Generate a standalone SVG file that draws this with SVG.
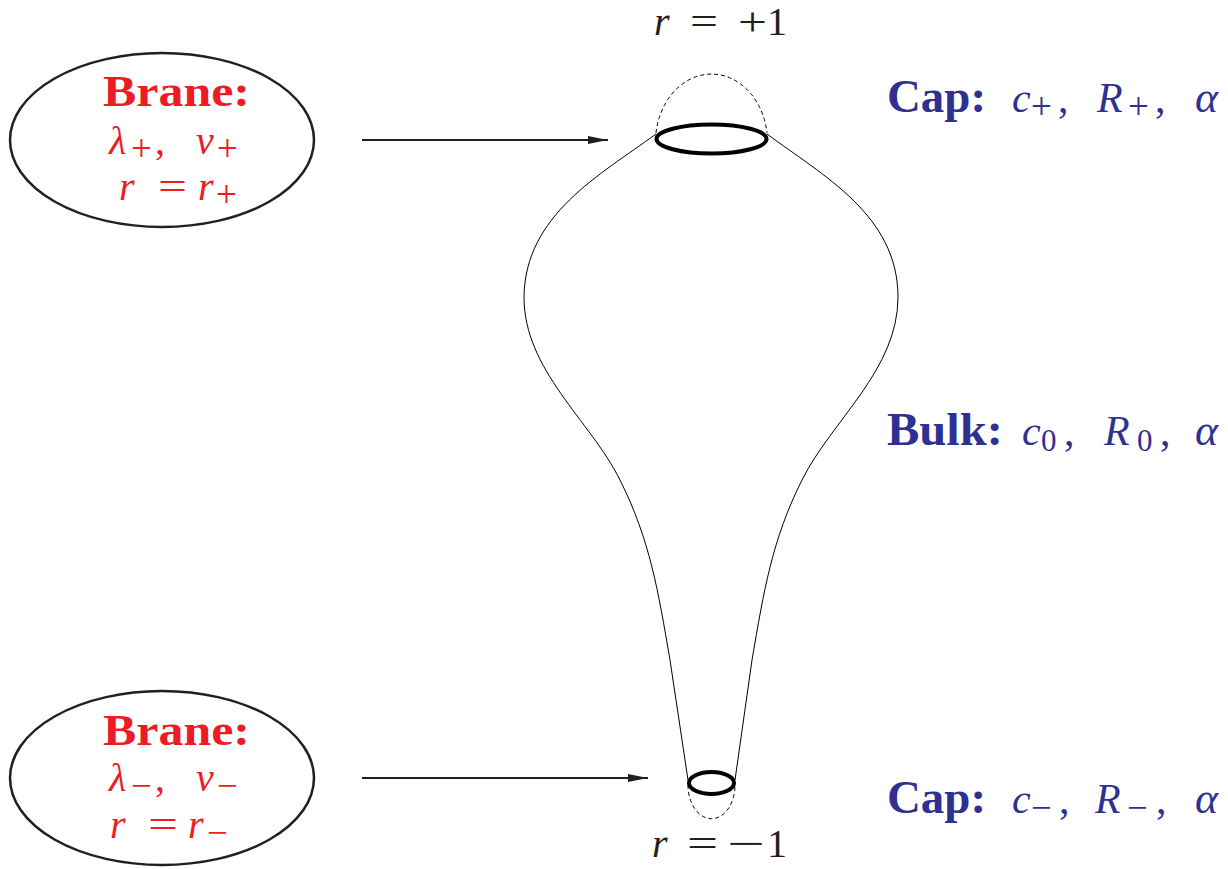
<svg xmlns="http://www.w3.org/2000/svg" width="1228" height="869" viewBox="0 0 1228 869">
<style>
.t{font-family:"Liberation Serif","DejaVu Serif",serif}
.red{fill:#ED1C24}
.blue{fill:#2E3192}
.blk{fill:#231F20}
.b{font-weight:bold}
.i{font-style:italic}
.s{font-size:31px}
.p{font-size:37px}
.ell{fill:none;stroke:#231F20;stroke-width:2.5}
.cap{fill:none;stroke:#000;stroke-width:4}
.dash{fill:none;stroke:#000;stroke-width:1;stroke-dasharray:4,3}
.body{fill:none;stroke:#000;stroke-width:1}
.arr{stroke:#231F20;stroke-width:2;fill:none}
</style>
<defs>
<marker id="ah2" viewBox="0 0 20 10" refX="20" refY="5" markerWidth="20" markerHeight="10" markerUnits="userSpaceOnUse" orient="auto"><path d="M0,1 L20,5 L0,9 Z" fill="#231F20"/></marker>
</defs>
<g id="shape">
<path class="body" d="M656,134 C600,175 525,215 524,297 C524,370 590,420 620,480 C650,540 658,590 670,660 L688,780"/>
<path class="body" d="M767,134 C822,175 898,215 898,297 C898,370 832,420 802,480 C772,540 764,590 752,660 L735,780"/>
<path class="dash" d="M656,133 A56,68 0 0 1 767,133"/>
<path class="dash" d="M688,785 A23,33 0 0 0 735,785"/>
<ellipse class="cap" cx="711.5" cy="139" rx="55" ry="14.5"/>
<ellipse class="cap" cx="711.5" cy="783" rx="22.5" ry="11"/>
<text class="t blk" y="35" font-size="40"><tspan x="654" class="i">r</tspan><tspan x="690" textLength="28" lengthAdjust="spacingAndGlyphs">=</tspan><tspan x="738" textLength="29" lengthAdjust="spacingAndGlyphs">+</tspan><tspan x="767">1</tspan></text>
<text class="t blk" y="857" font-size="40"><tspan x="652" class="i">r</tspan><tspan x="687" textLength="31" lengthAdjust="spacingAndGlyphs">=</tspan><tspan x="727" textLength="38" lengthAdjust="spacingAndGlyphs">−</tspan><tspan x="767">1</tspan></text>
</g>
<g id="brane-top">
<ellipse class="ell" cx="162" cy="140" rx="152" ry="87"/>
<text class="t red b" x="103" y="106" font-size="44" textLength="147" lengthAdjust="spacingAndGlyphs">Brane:</text>
<text class="t red" y="154" font-size="40"><tspan x="109" class="i">λ</tspan><tspan x="131" y="161" class="p">+</tspan><tspan x="155" y="154">,</tspan><tspan x="196" class="i">v</tspan><tspan x="217" y="161" class="p">+</tspan></text>
<text class="t red" y="200" font-size="40"><tspan x="119" class="i">r</tspan><tspan x="158" textLength="29" lengthAdjust="spacingAndGlyphs">=</tspan><tspan x="198" class="i">r</tspan><tspan x="216" y="207" class="p">+</tspan></text>
</g>
<g id="brane-bottom">
<ellipse class="ell" cx="162" cy="778" rx="152" ry="87"/>
<text class="t red b" x="103" y="745" font-size="44" textLength="147" lengthAdjust="spacingAndGlyphs">Brane:</text>
<text class="t red" y="791" font-size="40"><tspan x="109" class="i">λ</tspan><tspan x="131" y="798" class="p">−</tspan><tspan x="155" y="791">,</tspan><tspan x="196" class="i">v</tspan><tspan x="217" y="798" class="p">−</tspan></text>
<text class="t red" y="838" font-size="40"><tspan x="110" class="i">r</tspan><tspan x="148" textLength="30" lengthAdjust="spacingAndGlyphs">=</tspan><tspan x="188" class="i">r</tspan><tspan x="207" y="845" class="p">−</tspan></text>
</g>
<g id="label-cap-top" class="t blue" font-size="42">
<text x="887" y="112" class="b" font-size="47" textLength="99" lengthAdjust="spacingAndGlyphs">Cap:</text>
<text y="112"><tspan x="1012" class="i">c</tspan><tspan x="1031" y="119" class="p">+</tspan><tspan x="1058" y="112">,</tspan><tspan x="1097" class="i">R</tspan><tspan x="1128" y="119" class="p">+</tspan><tspan x="1155" y="112">,</tspan><tspan x="1195" class="i" font-size="44">α</tspan></text>
</g>
<g id="label-bulk" class="t blue" font-size="42">
<text x="887" y="445" class="b" font-size="47" textLength="116" lengthAdjust="spacingAndGlyphs">Bulk:</text>
<text y="445"><tspan x="1022" class="i">c</tspan><tspan x="1041" y="451" class="s">0</tspan><tspan x="1064" y="445">,</tspan><tspan x="1104" class="i">R</tspan><tspan x="1137" y="451" class="s">0</tspan><tspan x="1160" y="445">,</tspan><tspan x="1195" class="i" font-size="44">α</tspan></text>
</g>
<g id="label-cap-bottom" class="t blue" font-size="42">
<text x="887" y="813" class="b" font-size="47" textLength="99" lengthAdjust="spacingAndGlyphs">Cap:</text>
<text y="813"><tspan x="1012" class="i">c</tspan><tspan x="1031" y="820" class="p">−</tspan><tspan x="1059" y="813">,</tspan><tspan x="1095" class="i">R</tspan><tspan x="1127" y="820" class="p">−</tspan><tspan x="1156" y="813">,</tspan><tspan x="1195" class="i" font-size="44">α</tspan></text>
</g>
<g id="connectors">
<line class="arr" x1="362" y1="140" x2="608" y2="140" marker-end="url(#ah2)"/>
<line class="arr" x1="362" y1="778" x2="648" y2="778" marker-end="url(#ah2)"/>
</g>
</svg>
